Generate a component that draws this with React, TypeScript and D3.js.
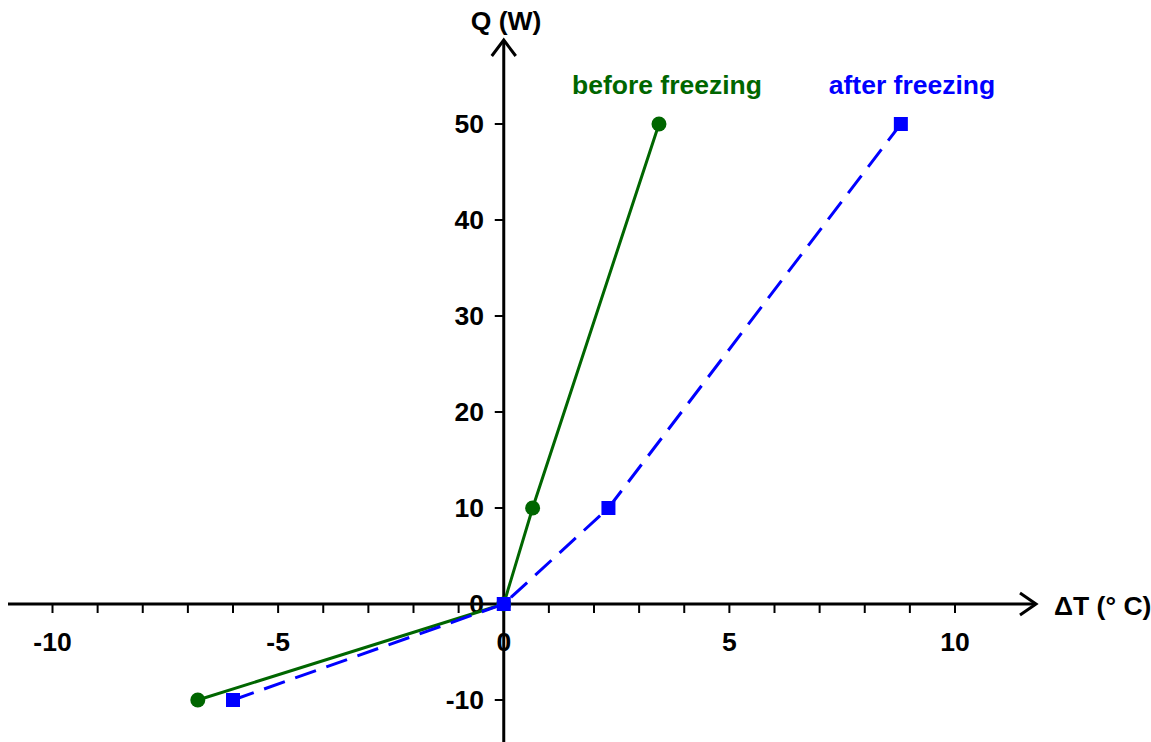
import React, { useEffect, useRef } from "react";
import * as d3 from "d3";

// Q (W) versus delta T (°C)
const beforeDT = [-6.78, 0, 0.64, 3.44];
const beforeQ = [-10, 0, 10, 50];
const afterDT = [-6.0, 0, 2.32, 8.8];
const afterQ = [-10, 0, 10, 50];
const xTickLabels = [-10, -5, 0, 5, 10];
const yTickLabels = [-10, 0, 10, 20, 30, 40, 50];

const GREEN = "#006600";
const BLUE = "#0000ff";
const FONT = "'Liberation Sans', Arial, sans-serif";

const App = () => {
  const ref = useRef<SVGSVGElement>(null);

  useEffect(() => {
    const svg = d3.select(ref.current);
    svg.selectAll("*").remove();

    const x = d3.scaleLinear().domain([-10, 10]).range([52.5, 955]);
    const y = d3.scaleLinear().domain([-10, 50]).range([700, 124]);
    const x0 = x(0);
    const y0 = y(0);

    // axes with open arrow heads
    const axes = svg.append("g").attr("stroke", "#000").attr("stroke-width", 3).attr("fill", "none");
    axes.append("line").attr("x1", 8).attr("x2", 1036).attr("y1", y0).attr("y2", y0);
    axes.append("path").attr("d", `M${1020},${y0 - 11} L${1036},${y0} L${1020},${y0 + 11}`);
    axes.append("line").attr("x1", x0).attr("x2", x0).attr("y1", 742).attr("y2", 40);
    axes.append("path").attr("d", `M${x0 - 12},${56} L${x0},${40} L${x0 + 12},${56}`);

    const ticks = svg.append("g").attr("stroke", "#000").attr("stroke-width", 2);
    d3.range(-10, 11).forEach((t) => {
      ticks.append("line").attr("x1", x(t)).attr("x2", x(t)).attr("y1", y0).attr("y2", y0 + 9);
    });
    yTickLabels.forEach((t) => {
      ticks.append("line").attr("x1", x0 - 9).attr("x2", x0).attr("y1", y(t)).attr("y2", y(t));
    });

    const text = svg.append("g")
      .attr("font-family", FONT)
      .attr("font-weight", "bold")
      .attr("font-size", 26.5);

    xTickLabels.forEach((t) => {
      text.append("text").attr("x", x(t)).attr("y", 651).attr("text-anchor", "middle").text(t);
    });
    yTickLabels.forEach((t) => {
      text.append("text").attr("x", 484).attr("y", y(t) + 9).attr("text-anchor", "end").text(t);
    });

    text.append("text").attr("x", 506).attr("y", 30).attr("text-anchor", "middle").text("Q (W)");
    text.append("text").attr("x", 1054).attr("y", 615).text("\u0394T (\u00b0 C)");
    text.append("text").attr("x", 667).attr("y", 94).attr("text-anchor", "middle")
      .attr("fill", GREEN).text("before freezing");
    text.append("text").attr("x", 912).attr("y", 94).attr("text-anchor", "middle")
      .attr("fill", BLUE).text("after freezing");

    const before = beforeDT.map((d, i) => [x(d), y(beforeQ[i])] as [number, number]);
    const after = afterDT.map((d, i) => [x(d), y(afterQ[i])] as [number, number]);
    const path = d3.line();

    svg.append("path").attr("d", path(before)).attr("fill", "none")
      .attr("stroke", GREEN).attr("stroke-width", 3);
    svg.selectAll(".dotB").data(before).enter().append("circle")
      .attr("cx", (d) => d[0]).attr("cy", (d) => d[1]).attr("r", 7.5).attr("fill", GREEN);

    svg.append("path").attr("d", path(after)).attr("fill", "none")
      .attr("stroke", BLUE).attr("stroke-width", 3).attr("stroke-dasharray", "22,11");
    svg.selectAll(".sqA").data(after).enter().append("rect")
      .attr("x", (d) => d[0] - 7).attr("y", (d) => d[1] - 7)
      .attr("width", 14).attr("height", 14).attr("fill", BLUE);
  }, []);

  return (
    <svg
      ref={ref}
      width={1151}
      height={742}
      style={{ position: "absolute", left: 0, top: 0, background: "#fff" }}
    />
  );
};

export default App;
